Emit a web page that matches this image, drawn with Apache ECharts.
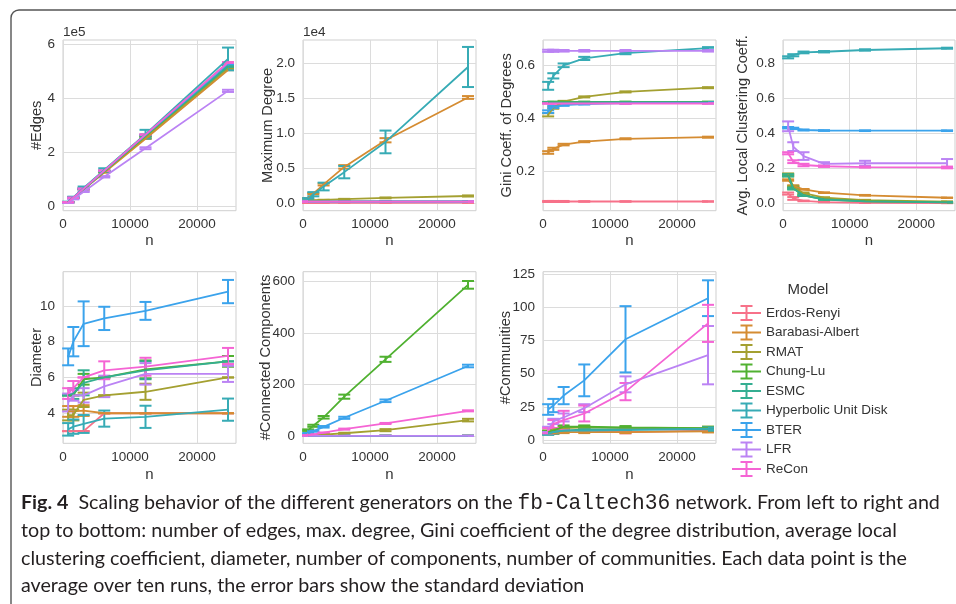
<!DOCTYPE html>
<html>
<head>
<meta charset="utf-8">
<title>Scaling behavior of graph generators</title>
<script src="https://cdn.jsdelivr.net/npm/echarts@6/dist/echarts.min.js"></script>
<style>
  html, body { margin: 0; padding: 0; background: #ffffff; }
  #chart { width: 956px; height: 604px; }
</style>
</head>
<body>
<div id="chart"></div>
<script>
// Network sizes (number of nodes) used for each generator run
const sizes = [769, 1538, 3076, 6152, 12304, 24608];
const xTicks = [0, 10000, 20000];

const models = ['Erdos-Renyi', 'Barabasi-Albert', 'RMAT', 'Chung-Lu', 'ESMC',
                'Hyperbolic Unit Disk', 'BTER', 'LFR', 'ReCon'];
const palette = ['#f77189', '#d58c32', '#a4a031', '#50b131', '#34ae91',
                 '#37abb5', '#3ba3ec', '#bb83f4', '#f564d4'];

// Rows follow the model order above; columns follow `sizes`.
// Mean and standard deviation over ten runs.
const edgesTicks = [0, 200000, 400000, 600000];
const edgesMean = [
  [16650, 33300, 66600, 133200, 266400, 532800],
  [16140, 32280, 63900, 126500, 251000, 505000],
  [16200, 32400, 64800, 129000, 257000, 512000],
  [16500, 33000, 66000, 131500, 262000, 520000],
  [16600, 33200, 66300, 132000, 264000, 518000],
  [17200, 34500, 69500, 136000, 268000, 546000],
  [16600, 33200, 66400, 132500, 265000, 528000],
  [14000, 27800, 55500, 110500, 216000, 428000],
  [16650, 33300, 66600, 133200, 266400, 532800]
];
const edgesStd = [
  [100, 150, 200, 300, 500, 700],
  [80, 100, 150, 200, 300, 400],
  [150, 300, 500, 900, 1500, 2500],
  [100, 200, 300, 500, 900, 1500],
  [100, 150, 200, 400, 600, 1000],
  [1500, 2500, 5000, 6000, 16000, 42000],
  [150, 250, 400, 800, 1200, 2000],
  [400, 700, 1200, 2500, 3500, 4000],
  [100, 150, 300, 500, 800, 1500]
];

const degreeTicks = [0, 5000, 10000, 15000, 20000];
const degreeMean = [
  [65, 70, 75, 80, 85, 90],
  [700, 1380, 2700, 5200, 9000, 15100],
  [350, 400, 480, 600, 780, 1050],
  [250, 255, 260, 262, 265, 268],
  [248, 248, 248, 248, 248, 248],
  [600, 1300, 2400, 4450, 8760, 19450],
  [250, 252, 255, 258, 260, 262],
  [248, 248, 248, 248, 248, 248],
  [248, 248, 248, 248, 248, 248]
];
const degreeStd = [
  [5, 5, 5, 5, 5, 5],
  [50, 90, 150, 250, 300, 200],
  [20, 25, 30, 40, 60, 80],
  [5, 5, 5, 5, 5, 5],
  [1, 1, 1, 1, 1, 1],
  [150, 300, 550, 880, 1620, 2860],
  [5, 5, 5, 5, 5, 5],
  [3, 3, 3, 3, 3, 3],
  [1, 1, 1, 1, 1, 1]
];

const giniTicks = [0.2, 0.4, 0.6];
const giniMean = [
  [0.084, 0.084, 0.084, 0.084, 0.084, 0.084],
  [0.270, 0.284, 0.300, 0.311, 0.322, 0.328],
  [0.413, 0.440, 0.463, 0.481, 0.500, 0.516],
  [0.460, 0.461, 0.462, 0.462, 0.462, 0.462],
  [0.459, 0.460, 0.460, 0.461, 0.461, 0.461],
  [0.523, 0.561, 0.601, 0.627, 0.647, 0.666],
  [0.425, 0.443, 0.450, 0.454, 0.457, 0.458],
  [0.656, 0.656, 0.656, 0.656, 0.656, 0.656],
  [0.456, 0.456, 0.456, 0.456, 0.456, 0.456]
];
const giniStd = [
  [0.002, 0.002, 0.002, 0.001, 0.001, 0.001],
  [0.005, 0.004, 0.003, 0.002, 0.002, 0.002],
  [0.006, 0.004, 0.003, 0.002, 0.002, 0.002],
  [0.002, 0.002, 0.001, 0.001, 0.001, 0.001],
  [0.002, 0.002, 0.001, 0.001, 0.001, 0.001],
  [0.015, 0.010, 0.007, 0.006, 0.004, 0.004],
  [0.005, 0.004, 0.003, 0.002, 0.002, 0.002],
  [0.004, 0.004, 0.003, 0.003, 0.003, 0.003],
  [0.001, 0.001, 0.001, 0.001, 0.001, 0.001]
];

const clusteringTicks = [0, 0.2, 0.4, 0.6, 0.8];
const clusteringMean = [
  [0.056, 0.028, 0.014, 0.007, 0.0035, 0.0018],
  [0.133, 0.100, 0.080, 0.061, 0.046, 0.032],
  [0.165, 0.095, 0.058, 0.032, 0.018, 0.010],
  [0.160, 0.085, 0.046, 0.023, 0.012, 0.006],
  [0.160, 0.085, 0.046, 0.022, 0.011, 0.006],
  [0.834, 0.846, 0.862, 0.866, 0.876, 0.886],
  [0.432, 0.428, 0.419, 0.416, 0.415, 0.415],
  [0.440, 0.324, 0.270, 0.225, 0.229, 0.229],
  [0.286, 0.238, 0.219, 0.212, 0.207, 0.205]
];
const clusteringStd = [
  [0.006, 0.008, 0.002, 0.001, 0.001, 0.001],
  [0.004, 0.003, 0.002, 0.002, 0.002, 0.001],
  [0.006, 0.005, 0.004, 0.003, 0.002, 0.001],
  [0.006, 0.005, 0.004, 0.002, 0.001, 0.001],
  [0.006, 0.005, 0.004, 0.002, 0.001, 0.001],
  [0.006, 0.006, 0.005, 0.004, 0.004, 0.003],
  [0.004, 0.004, 0.003, 0.002, 0.002, 0.002],
  [0.028, 0.025, 0.022, 0.010, 0.014, 0.024],
  [0.006, 0.008, 0.007, 0.004, 0.003, 0.005]
];

const diameterTicks = [4, 6, 8, 10];
const diameterMean = [
  [3.0, 3.0, 3.0, 4.0, 4.0, 4.0],
  [4.1, 4.1, 4.15, 4.0, 4.0, 4.0],
  [3.9, 3.9, 4.75, 5.0, 5.2, 6.0],
  [5.0, 5.0, 5.9, 6.0, 6.45, 6.9],
  [5.0, 5.1, 5.7, 6.0, 6.4, 6.9],
  [3.1, 3.25, 3.4, 3.7, 3.8, 4.2],
  [7.15, 8.0, 9.0, 9.3, 9.72, 10.8],
  [4.6, 5.0, 5.0, 5.5, 6.2, 6.2],
  [5.1, 5.4, 6.0, 6.4, 6.6, 7.2]
];
const diameterStd = [
  [0, 0, 0, 0, 0, 0],
  [0.3, 0.3, 0.3, 0, 0, 0],
  [0.3, 0.3, 0.4, 0, 0.45, 0],
  [0, 0, 0.3, 0, 0.5, 0.3],
  [0, 0.3, 0.7, 0, 0.5, 0],
  [0.35, 0.4, 0.5, 0.45, 0.62, 0.62],
  [0.47, 0.82, 1.25, 0.65, 0.5, 0.65],
  [0.5, 0.3, 0.4, 0.6, 0.6, 0.45],
  [0.3, 0.4, 0, 0.5, 0.5, 0.45]
];

const componentsTicks = [0, 200, 400, 600];
const componentsMean = [
  [1, 1, 1, 1, 1, 1],
  [1, 1, 1, 1, 1, 1],
  [2, 3, 6, 11, 23, 62],
  [23, 40, 73, 153, 298, 587],
  [1, 1, 1, 1, 1, 1],
  [1, 1, 1, 1, 1, 1],
  [10, 19, 36, 71, 137, 272],
  [1, 1, 1, 1, 1, 1],
  [3, 6, 13, 27, 49, 98]
];
const componentsStd = [
  [0, 0, 0, 0, 0, 0],
  [0, 0, 0, 0, 0, 0],
  [1, 1, 1.5, 2, 4, 5],
  [3, 4, 5, 8, 10, 15],
  [0, 0, 0, 0, 0, 0],
  [0, 0, 0, 0, 0, 0],
  [2, 2, 3, 4, 5, 5],
  [0, 0, 0, 0, 0, 0],
  [1, 1, 1, 2, 2, 2]
];

const communitiesTicks = [0, 25, 50, 75, 100, 125];
const communitiesMean = [
  [6, 6, 7, 7, 6, 7],
  [5, 5, 6, 6, 6, 6.5],
  [6, 8, 9, 9.5, 9, 9],
  [6, 7, 10, 10, 9.5, 9],
  [5, 6, 7, 8, 8, 8],
  [5, 6, 7, 7, 7.5, 8.5],
  [23, 26, 33.5, 45, 76, 107],
  [8, 14, 17, 24, 42, 64],
  [7, 12, 15, 20, 36.5, 88]
];
const communitiesStd = [
  [1, 1, 1, 1, 1, 1],
  [0.5, 0.5, 0.8, 0.8, 0.8, 0.8],
  [1, 1, 1, 1, 1, 1],
  [1, 1, 1, 1, 1, 1],
  [1, 1, 1, 1, 1, 1],
  [1, 1, 1, 1, 1, 1],
  [4, 5, 6.5, 12, 25, 13.5],
  [2, 2, 3, 3, 6, 22],
  [2, 3, 7, 6, 6.5, 14]
];

// Panel layout: [left, top, width, height] of each plotting area
const TOP_ROW = 40, TOP_H = 170.7, BOT_ROW = 271.7, BOT_H = 171.6;
const panels = [
  { mean: edgesMean, std: edgesStd, ticks: edgesTicks, title: '#Edges',
    min: -14800, max: 616000, fmt: v => String(v / 1e5), exp: '1e5',
    box: [63, TOP_ROW, 173, TOP_H], gap: 19, xGap: 23 },
  { mean: degreeMean, std: degreeStd, ticks: degreeTicks, title: 'Maximum Degree',
    min: -1050, max: 23300, fmt: v => (v / 1e4).toFixed(1), exp: '1e4',
    box: [303, TOP_ROW, 173, TOP_H], gap: 28, xGap: 23 },
  { mean: giniMean, std: giniStd, ticks: giniTicks, title: 'Gini Coeff. of Degrees',
    min: 0.049, max: 0.697, fmt: v => v.toFixed(1),
    box: [543, TOP_ROW, 173, TOP_H], gap: 28.5, xGap: 23 },
  { mean: clusteringMean, std: clusteringStd, ticks: clusteringTicks, title: 'Avg. Local Clustering Coeff.',
    min: -0.042, max: 0.933, fmt: v => v.toFixed(1),
    box: [783, TOP_ROW, 172, TOP_H], gap: 32.5, xGap: 23 },
  { mean: diameterMean, std: diameterStd, ticks: diameterTicks, title: 'Diameter',
    min: 2.32, max: 11.91, fmt: v => String(v),
    box: [63, BOT_ROW, 173, BOT_H], gap: 18.5, xGap: 24.5 },
  { mean: componentsMean, std: componentsStd, ticks: componentsTicks, title: '#Connected Components',
    min: -28, max: 638, fmt: v => String(v),
    box: [303, BOT_ROW, 173, BOT_H], gap: 29.5, xGap: 24.5 },
  { mean: communitiesMean, std: communitiesStd, ticks: communitiesTicks, title: '#Communities',
    min: -2.5, max: 127, fmt: v => String(v),
    box: [543, BOT_ROW, 173, BOT_H], gap: 29.5, xGap: 24.5 }
];

const FONT = '"Liberation Sans", Arial, sans-serif';
const TEXT = '#333333';
const GRID_LINE = '#dcdcdc';
const FRAME = '#cfcfcf';

// Vertical error bar with caps, drawn in data coordinates
function renderErrorBar(params, api) {
  const x = api.value(0);
  const lo = api.coord([x, api.value(1)]);
  const hi = api.coord([x, api.value(2)]);
  const half = 6;
  const style = { stroke: api.visual('color'), lineWidth: 2, fill: 'none' };
  return {
    type: 'group',
    children: [
      { type: 'line', shape: { x1: lo[0], y1: lo[1], x2: hi[0], y2: hi[1] }, style },
      { type: 'line', shape: { x1: lo[0] - half, y1: lo[1], x2: lo[0] + half, y2: lo[1] }, style },
      { type: 'line', shape: { x1: hi[0] - half, y1: hi[1], x2: hi[0] + half, y2: hi[1] }, style }
    ]
  };
}

const grids = [], xAxes = [], yAxes = [], series = [], graphics = [];

panels.forEach((p, gi) => {
  const [left, top, width, height] = p.box;
  grids.push({
    left, top, width, height,
    show: true, borderColor: FRAME, borderWidth: 1, backgroundColor: '#ffffff',
    containLabel: false, outerBoundsMode: 'none'
  });
  xAxes.push({
    type: 'value', gridIndex: gi, min: 0, max: 25800,
    name: 'n', nameLocation: 'middle', nameGap: p.xGap, nameMoveOverlap: false,
    nameTextStyle: { fontFamily: FONT, fontSize: 15, color: TEXT },
    axisLine: { show: false }, axisTick: { show: false, customValues: xTicks },
    axisLabel: { customValues: xTicks, formatter: v => String(v),
                 fontFamily: FONT, fontSize: 13.5, color: TEXT, margin: 7 },
    splitLine: { show: true, lineStyle: { color: GRID_LINE, width: 1 } }
  });
  yAxes.push({
    type: 'value', gridIndex: gi, min: p.min, max: p.max,
    name: p.title, nameLocation: 'middle', nameGap: p.gap, nameRotate: 90, nameMoveOverlap: false,
    nameTextStyle: { fontFamily: FONT, fontSize: 14.6, color: TEXT },
    axisLine: { show: false }, axisTick: { show: false, customValues: p.ticks },
    axisLabel: { customValues: p.ticks, formatter: p.fmt, fontFamily: FONT, fontSize: 13.5, color: TEXT, margin: 8 },
    splitLine: { show: true, lineStyle: { color: GRID_LINE, width: 1 } }
  });
  if (p.exp) {
    graphics.push({
      type: 'text', left: left, top: top - 15,
      style: { text: p.exp, font: '13.5px ' + FONT, fill: TEXT }
    });
  }
  models.forEach((m, mi) => {
    series.push({
      type: 'line', name: m, xAxisIndex: gi, yAxisIndex: gi,
      data: sizes.map((x, k) => [x, p.mean[mi][k]]),
      showSymbol: false, symbol: 'none',
      lineStyle: { color: palette[mi], width: 1.8 },
      itemStyle: { color: palette[mi] },
      silent: true, animation: false
    });
    series.push({
      type: 'custom', name: m, xAxisIndex: gi, yAxisIndex: gi,
      renderItem: renderErrorBar,
      data: sizes.map((x, k) => [x, p.mean[mi][k] - p.std[mi][k], p.mean[mi][k] + p.std[mi][k]]),
      encode: { x: 0, y: [1, 2] },
      itemStyle: { color: palette[mi] },
      silent: true, animation: false, clip: false
    });
  });
});

// Outer frame of the figure
graphics.push({
  type: 'rect', z: -1,
  shape: { x: 11, y: 10, width: 1000, height: 700, r: 8 },
  style: { fill: 'none', stroke: '#555555', lineWidth: 1.4 }
});

// Legend heading
graphics.push({
  type: 'text', x: 808, y: 290,
  style: { text: 'Model', font: '15px ' + FONT, fill: TEXT, align: 'center', verticalAlign: 'middle' }
});

// Caption
const CAP_FONT = 'Lato, "Open Sans", sans-serif';
const capRich = {
  b: { fontFamily: CAP_FONT, fontWeight: 'bold', fontSize: 19.7, fill: '#231f20' },
  n: { fontFamily: CAP_FONT, fontSize: 19.7, fill: '#231f20' },
  m: { fontFamily: '"Liberation Mono", "DejaVu Sans Mono", monospace', fontSize: 21.2, fill: '#231f20' }
};
const captionLines = [
  '{b|Fig. 4}{n|  Scaling behavior of the different generators on the }{m|fb-Caltech36}{n| network. From left to right and}',
  '{n|top to bottom: number of edges, max. degree, Gini coefficient of the degree distribution, average local}',
  '{n|clustering coefficient, diameter, number of components, number of communities. Each data point is the}',
  '{n|average over ten runs, the error bars show the standard deviation}'
];
const captionY = [503, 531, 558.5, 586];
captionLines.forEach((t, i) => {
  graphics.push({
    type: 'text', x: 21, y: captionY[i],
    style: { text: t, rich: capRich, verticalAlign: 'middle', align: 'left' }
  });
});

const legendIcon = 'path://M0 7h29v2H0z M13.5 0h2v16h-2z M8.5 0h12v2h-12z M8.5 14h12v2h-12z';

const option = {
  backgroundColor: '#ffffff',
  animation: false,
  grid: grids,
  xAxis: xAxes,
  yAxis: yAxes,
  series: series,
  graphic: graphics,
  legend: {
    orient: 'vertical', left: 727, top: 300,
    itemWidth: 29, itemHeight: 16, itemGap: 3.5,
    icon: legendIcon, selectedMode: false,
    data: models.map((m, i) => ({ name: m, itemStyle: { color: palette[i], borderWidth: 0 } })),
    itemStyle: { borderWidth: 0 },
    textStyle: { fontFamily: FONT, fontSize: 13.5, color: TEXT, padding: 0 }
  }
};

const chart = echarts.init(document.getElementById('chart'), null, { renderer: 'canvas' });
chart.setOption(option);
</script>
</body>
</html>
